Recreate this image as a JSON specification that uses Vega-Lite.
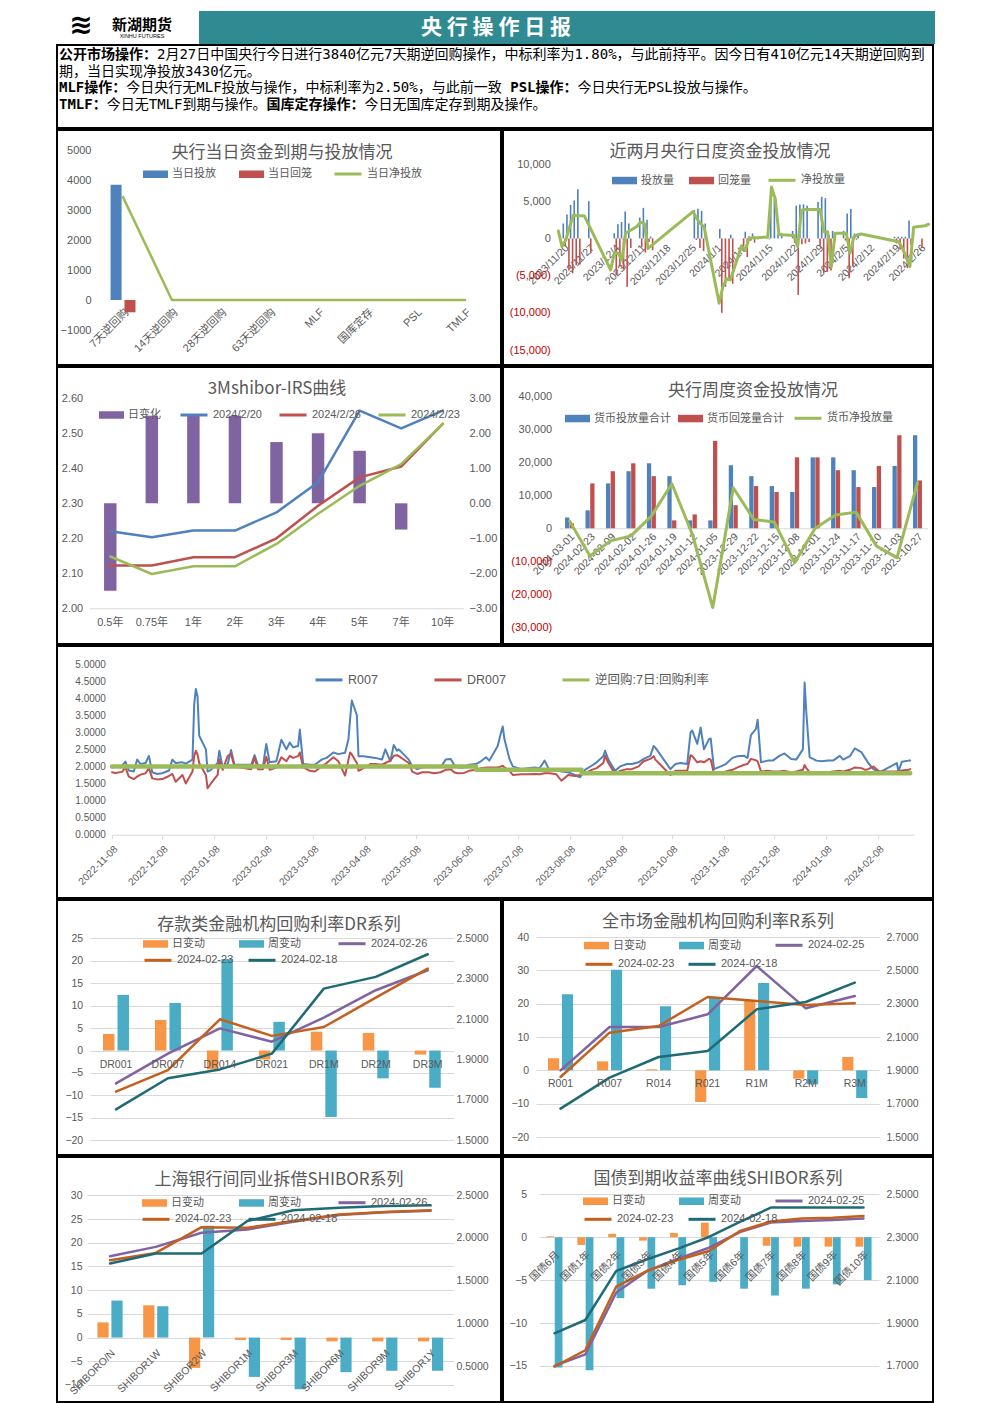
{
"$schema": "https://vega.github.io/schema/vega-lite/v6.json",
"background": "white",
"padding": {"left": 56, "top": 11, "right": 0, "bottom": 0},
"spacing": 0,
"resolve": {"scale": {"fill": "independent", "stroke": "independent", "xOffset": "independent"}, "legend": {"fill": "independent", "stroke": "independent"}},
"config": {
  "font": "Liberation Sans, Noto Sans CJK SC",
  "view": {"stroke": null},
  "axis": {"labelColor": "#595959", "labelFont": "Liberation Sans, Noto Sans CJK SC", "labelFontSize": 10.5, "ticks": false, "tickSize": 0, "domain": false, "grid": false, "labelOverlap": false, "labelFlush": false},
  "legend": {"labelColor": "#595959", "labelFont": "Liberation Sans, Noto Sans CJK SC", "labelFontSize": 11, "padding": 0, "orient": "none", "direction": "horizontal", "labelOffset": 4, "titlePadding": 0},
  "title": {"font": "Noto Sans CJK SC", "fontSize": 17, "fontWeight": "normal", "color": "#595959", "anchor": "middle", "frame": "group"},
  "line": {"strokeJoin": "round", "strokeCap": "round"},
  "concat": {"spacing": 0}
},
"datasets": {
  "p1bar": [{"c":"7天逆回购","s":"当日投放","v":3840},{"c":"7天逆回购","s":"当日回笼","v":-410}],
  "p1line": [{"c":"7天逆回购","v":3430},{"c":"14天逆回购","v":0},{"c":"28天逆回购","v":0},{"c":"63天逆回购","v":0},{"c":"MLF","v":0},{"c":"国库定存","v":0},{"c":"PSL","v":0},{"c":"TMLF","v":0}],
  "p2": [
    {"d":"2023/11/20","inj":2000,"mat":-1000,"net":1000},{"d":"2023/11/21","inj":3200,"mat":-4300,"net":-1100},{"d":"2023/11/22","inj":4500,"mat":-4700,"net":-200},{"d":"2023/11/23","inj":5100,"mat":-3600,"net":1500},{"d":"2023/11/24","inj":6600,"mat":-3500,"net":3100},{"d":"2023/11/27","inj":5000,"mat":-2000,"net":3000},
    {"d":"2023/12/04","inj":700,"mat":-4950,"net":-4250},{"d":"2023/12/05","inj":1900,"mat":-3800,"net":-1900},{"d":"2023/12/06","inj":2200,"mat":-4200,"net":-2000},{"d":"2023/12/07","inj":3600,"mat":-6500,"net":-2900},{"d":"2023/12/08","inj":2000,"mat":-1300,"net":700},
    {"d":"2023/12/11","inj":2800,"mat":-1200,"net":1600},{"d":"2023/12/12","inj":4100,"mat":-1900,"net":2200},{"d":"2023/12/13","inj":2500,"mat":-500,"net":2000},{"d":"2023/12/14","inj":250,"mat":-1600,"net":-1350},
    {"d":"2023/12/26","inj":3800,"mat":-200,"net":3600},{"d":"2023/12/27","inj":4000,"mat":-1300,"net":2700},{"d":"2023/12/28","inj":3700,"mat":-1700,"net":2000},{"d":"2023/12/29","inj":2000,"mat":-500,"net":1500},
    {"d":"2024/01/02","inj":1300,"mat":-10000,"net":-8700},{"d":"2024/01/03","inj":0,"mat":-6500,"net":-6500},{"d":"2024/01/04","inj":0,"mat":-5400,"net":-5400},{"d":"2024/01/05","inj":500,"mat":-6100,"net":-5600},
    {"d":"2024/01/08","inj":0,"mat":-1000,"net":-1000},{"d":"2024/01/09","inj":900,"mat":-2500,"net":-1600},{"d":"2024/01/10","inj":300,"mat":-300,"net":0},{"d":"2024/01/11","inj":670,"mat":-570,"net":100},{"d":"2024/01/12","inj":200,"mat":-100,"net":100},
    {"d":"2024/01/15","inj":300,"mat":-100,"net":200},{"d":"2024/01/16","inj":6900,"mat":0,"net":6900},{"d":"2024/01/17","inj":5300,"mat":0,"net":5300},{"d":"2024/01/18","inj":550,"mat":0,"net":550},{"d":"2024/01/19","inj":500,"mat":0,"net":500},
    {"d":"2024/01/22","inj":1000,"mat":-600,"net":400},{"d":"2024/01/23","inj":4400,"mat":-7600,"net":-1100},{"d":"2024/01/24","inj":4570,"mat":-770,"net":3800},{"d":"2024/01/25","inj":4570,"mat":-670,"net":3900},{"d":"2024/01/26","inj":4400,"mat":-500,"net":3900},
    {"d":"2024/01/29","inj":4900,"mat":-1000,"net":3900},{"d":"2024/01/30","inj":5600,"mat":-4700,"net":900},{"d":"2024/01/31","inj":5400,"mat":-4500,"net":900},{"d":"2024/02/01","inj":500,"mat":-4300,"net":-3800},{"d":"2024/02/02","inj":1000,"mat":-300,"net":700},
    {"d":"2024/02/05","inj":1000,"mat":-300,"net":700},{"d":"2024/02/06","inj":3360,"mat":-5360,"net":-2000},{"d":"2024/02/07","inj":3950,"mat":-3750,"net":200},{"d":"2024/02/08","inj":670,"mat":-170,"net":500},{"d":"2024/02/09","inj":600,"mat":0,"net":600},
    {"d":"2024/02/19","inj":224,"mat":-670,"net":-450},{"d":"2024/02/20","inj":224,"mat":-1500,"net":-1300},{"d":"2024/02/21","inj":224,"mat":-2700,"net":-2500},{"d":"2024/02/22","inj":224,"mat":-4000,"net":-3800},{"d":"2024/02/23","inj":2400,"mat":-900,"net":1500},
    {"d":"2024/02/26","inj":0,"mat":-1300,"net":1700},{"d":"2024/02/27","inj":0,"mat":0,"net":1900}
  ],
  "irsbar": [{"c":"0.5年","v":-2.5},{"c":"0.75年","v":2.5},{"c":"1年","v":2.5},{"c":"2年","v":2.5},{"c":"3年","v":1.75},{"c":"4年","v":2.0},{"c":"5年","v":1.5},{"c":"7年","v":-0.75},{"c":"10年","v":0}],
  "irsline": [
    {"c":"0.5年","s":"2024/2/20","v":2.220},{"c":"0.75年","s":"2024/2/20","v":2.203},{"c":"1年","s":"2024/2/20","v":2.222},{"c":"2年","s":"2024/2/20","v":2.222},{"c":"3年","s":"2024/2/20","v":2.274},{"c":"4年","s":"2024/2/20","v":2.360},{"c":"5年","s":"2024/2/20","v":2.565},{"c":"7年","s":"2024/2/20","v":2.514},{"c":"10年","s":"2024/2/20","v":2.565},
    {"c":"0.5年","s":"2024/2/26","v":2.122},{"c":"0.75年","s":"2024/2/26","v":2.122},{"c":"1年","s":"2024/2/26","v":2.146},{"c":"2年","s":"2024/2/26","v":2.146},{"c":"3年","s":"2024/2/26","v":2.200},{"c":"4年","s":"2024/2/26","v":2.293},{"c":"5年","s":"2024/2/26","v":2.374},{"c":"7年","s":"2024/2/26","v":2.405},{"c":"10年","s":"2024/2/26","v":2.527},
    {"c":"0.5年","s":"2024/2/23","v":2.148},{"c":"0.75年","s":"2024/2/23","v":2.098},{"c":"1年","s":"2024/2/23","v":2.120},{"c":"2年","s":"2024/2/23","v":2.120},{"c":"3年","s":"2024/2/23","v":2.184},{"c":"4年","s":"2024/2/23","v":2.270},{"c":"5年","s":"2024/2/23","v":2.350},{"c":"7年","s":"2024/2/23","v":2.412},{"c":"10年","s":"2024/2/23","v":2.527}
  ],
  "wkbar": [
    {"w":"2024-03-01","s":"货币投放量合计","v":3300},{"w":"2024-03-01","s":"货币回笼量合计","v":1500},
    {"w":"2024-02-23","s":"货币投放量合计","v":5450},{"w":"2024-02-23","s":"货币回笼量合计","v":13600},
    {"w":"2024-02-09","s":"货币投放量合计","v":13600},{"w":"2024-02-09","s":"货币回笼量合计","v":17300},
    {"w":"2024-02-02","s":"货币投放量合计","v":17300},{"w":"2024-02-02","s":"货币回笼量合计","v":19700},
    {"w":"2024-01-26","s":"货币投放量合计","v":19700},{"w":"2024-01-26","s":"货币回笼量合计","v":15800},
    {"w":"2024-01-19","s":"货币投放量合计","v":15800},{"w":"2024-01-19","s":"货币回笼量合计","v":2400},
    {"w":"2024-01-12","s":"货币投放量合计","v":2400},{"w":"2024-01-12","s":"货币回笼量合计","v":4200},
    {"w":"2024-01-05","s":"货币投放量合计","v":2400},{"w":"2024-01-05","s":"货币回笼量合计","v":26500},
    {"w":"2023-12-29","s":"货币投放量合计","v":19100},{"w":"2023-12-29","s":"货币回笼量合计","v":7000},
    {"w":"2023-12-22","s":"货币投放量合计","v":15800},{"w":"2023-12-22","s":"货币回笼量合计","v":12800},
    {"w":"2023-12-15","s":"货币投放量合计","v":12800},{"w":"2023-12-15","s":"货币回笼量合计","v":11000},
    {"w":"2023-12-08","s":"货币投放量合计","v":11000},{"w":"2023-12-08","s":"货币回笼量合计","v":21500},
    {"w":"2023-12-01","s":"货币投放量合计","v":21500},{"w":"2023-12-01","s":"货币回笼量合计","v":21500},
    {"w":"2023-11-24","s":"货币投放量合计","v":21500},{"w":"2023-11-24","s":"货币回笼量合计","v":17600},
    {"w":"2023-11-17","s":"货币投放量合计","v":17600},{"w":"2023-11-17","s":"货币回笼量合计","v":12500},
    {"w":"2023-11-10","s":"货币投放量合计","v":12500},{"w":"2023-11-10","s":"货币回笼量合计","v":18900},
    {"w":"2023-11-03","s":"货币投放量合计","v":18900},{"w":"2023-11-03","s":"货币回笼量合计","v":28200},
    {"w":"2023-10-27","s":"货币投放量合计","v":28200},{"w":"2023-10-27","s":"货币回笼量合计","v":14500}
  ],
  "wkline": [
    {"w":"2024-03-01","v":2200},{"w":"2024-02-23","v":-8400},{"w":"2024-02-09","v":-3800},{"w":"2024-02-02","v":-2300},{"w":"2024-01-26","v":3700},{"w":"2024-01-19","v":13500},{"w":"2024-01-12","v":-1800},{"w":"2024-01-05","v":-24000},{"w":"2023-12-29","v":12300},
    {"w":"2023-12-22","v":2700},{"w":"2023-12-15","v":1900},{"w":"2023-12-08","v":-10400},{"w":"2023-12-01","v":0},{"w":"2023-11-24","v":4000},{"w":"2023-11-17","v":4900},{"w":"2023-11-10","v":-5400},{"w":"2023-11-03","v":-8900},{"w":"2023-10-27","v":13800}
  ],
  "repo": [
    {"d":"2022/11/08","r":1.97,"dr":1.83},{"d":"2022/11/10","r":2.00,"dr":1.81},{"d":"2022/11/14","r":2.02,"dr":1.84},{"d":"2022/11/16","r":2.14,"dr":1.97},{"d":"2022/11/18","r":1.88,"dr":1.70},{"d":"2022/11/21","r":1.85,"dr":1.63},{"d":"2022/11/23","r":2.20,"dr":1.70},{"d":"2022/11/25","r":2.07,"dr":1.76},{"d":"2022/11/28","r":2.10,"dr":1.80},{"d":"2022/11/30","r":2.31,"dr":1.95},
    {"d":"2022/12/02","r":1.83,"dr":1.65},{"d":"2022/12/05","r":1.78,"dr":1.62},{"d":"2022/12/08","r":1.80,"dr":1.63},{"d":"2022/12/12","r":1.88,"dr":1.72},{"d":"2022/12/14","r":2.20,"dr":1.78},{"d":"2022/12/16","r":2.10,"dr":1.55},{"d":"2022/12/20","r":2.12,"dr":1.75},{"d":"2022/12/22","r":2.08,"dr":1.50},{"d":"2022/12/26","r":2.20,"dr":1.85},{"d":"2022/12/27","r":3.80,"dr":2.30},{"d":"2022/12/28","r":4.27,"dr":2.46},{"d":"2022/12/29","r":4.05,"dr":2.35},{"d":"2022/12/30","r":2.90,"dr":2.10},
    {"d":"2023/01/03","r":2.50,"dr":1.75},{"d":"2023/01/04","r":1.85,"dr":1.36},{"d":"2023/01/06","r":1.90,"dr":1.50},{"d":"2023/01/10","r":2.10,"dr":1.75},{"d":"2023/01/11","r":2.46,"dr":2.20},{"d":"2023/01/13","r":1.97,"dr":1.90},{"d":"2023/01/16","r":2.07,"dr":2.31},{"d":"2023/01/18","r":2.48,"dr":2.36},{"d":"2023/01/20","r":2.05,"dr":2.00},{"d":"2023/01/30","r":2.05,"dr":1.92},
    {"d":"2023/02/01","r":2.33,"dr":2.27},{"d":"2023/02/03","r":2.04,"dr":1.92},{"d":"2023/02/06","r":2.00,"dr":1.92},{"d":"2023/02/08","r":2.66,"dr":2.28},{"d":"2023/02/10","r":2.12,"dr":1.90},{"d":"2023/02/14","r":2.15,"dr":1.97},{"d":"2023/02/17","r":2.78,"dr":2.27},{"d":"2023/02/20","r":2.50,"dr":2.15},{"d":"2023/02/22","r":2.70,"dr":2.31},{"d":"2023/02/24","r":2.56,"dr":2.25},{"d":"2023/02/27","r":2.60,"dr":2.30},{"d":"2023/02/28","r":3.08,"dr":2.41},
    {"d":"2023/03/02","r":2.07,"dr":1.97},{"d":"2023/03/06","r":2.05,"dr":1.87},{"d":"2023/03/09","r":2.05,"dr":1.85},{"d":"2023/03/13","r":2.20,"dr":2.00},{"d":"2023/03/16","r":2.25,"dr":2.10},{"d":"2023/03/20","r":2.41,"dr":2.27},{"d":"2023/03/23","r":2.36,"dr":2.15},{"d":"2023/03/27","r":2.40,"dr":1.73},{"d":"2023/03/29","r":2.80,"dr":2.20},{"d":"2023/03/30","r":3.40,"dr":2.41},{"d":"2023/03/31","r":3.93,"dr":2.35},
    {"d":"2023/04/03","r":3.50,"dr":2.10},{"d":"2023/04/04","r":2.30,"dr":1.87},{"d":"2023/04/07","r":2.30,"dr":1.95},{"d":"2023/04/11","r":2.27,"dr":2.07},{"d":"2023/04/14","r":2.25,"dr":2.07},{"d":"2023/04/18","r":2.20,"dr":2.05},{"d":"2023/04/20","r":2.50,"dr":2.10},{"d":"2023/04/23","r":2.15,"dr":2.17},{"d":"2023/04/25","r":2.63,"dr":2.31},{"d":"2023/04/27","r":2.46,"dr":2.33},{"d":"2023/04/28","r":2.50,"dr":2.30},
    {"d":"2023/05/04","r":2.20,"dr":2.10},{"d":"2023/05/06","r":2.00,"dr":1.85},{"d":"2023/05/09","r":1.92,"dr":1.78},{"d":"2023/05/12","r":1.97,"dr":1.83},{"d":"2023/05/16","r":2.00,"dr":1.83},{"d":"2023/05/19","r":2.02,"dr":1.80},{"d":"2023/05/23","r":1.98,"dr":1.83},{"d":"2023/05/26","r":2.20,"dr":1.90},{"d":"2023/05/29","r":2.22,"dr":1.92},{"d":"2023/05/31","r":2.05,"dr":1.83},
    {"d":"2023/06/02","r":1.97,"dr":1.80},{"d":"2023/06/06","r":1.97,"dr":1.81},{"d":"2023/06/09","r":2.05,"dr":1.87},{"d":"2023/06/13","r":2.07,"dr":1.90},{"d":"2023/06/16","r":2.15,"dr":1.95},{"d":"2023/06/19","r":2.27,"dr":1.97},{"d":"2023/06/21","r":2.17,"dr":1.97},{"d":"2023/06/26","r":2.60,"dr":1.97},{"d":"2023/06/28","r":3.00,"dr":2.00},{"d":"2023/06/29","r":3.17,"dr":2.02},{"d":"2023/06/30","r":2.80,"dr":1.97},
    {"d":"2023/07/03","r":2.22,"dr":1.87},{"d":"2023/07/05","r":2.00,"dr":1.75},{"d":"2023/07/10","r":1.92,"dr":1.77},{"d":"2023/07/14","r":1.95,"dr":1.77},{"d":"2023/07/18","r":1.97,"dr":1.78},{"d":"2023/07/21","r":1.95,"dr":1.77},{"d":"2023/07/24","r":2.17,"dr":1.80},{"d":"2023/07/27","r":1.87,"dr":1.80},{"d":"2023/07/31","r":1.90,"dr":1.77},
    {"d":"2023/08/03","r":1.85,"dr":1.58},{"d":"2023/08/07","r":1.83,"dr":1.75},{"d":"2023/08/11","r":1.75,"dr":1.72},{"d":"2023/08/14","r":1.68,"dr":1.75},{"d":"2023/08/17","r":1.90,"dr":1.80},{"d":"2023/08/21","r":2.02,"dr":1.90},{"d":"2023/08/24","r":2.12,"dr":1.95},{"d":"2023/08/28","r":2.30,"dr":2.10},{"d":"2023/08/29","r":2.46,"dr":2.31},{"d":"2023/08/31","r":2.20,"dr":2.10},
    {"d":"2023/09/04","r":1.87,"dr":1.78},{"d":"2023/09/07","r":2.00,"dr":1.87},{"d":"2023/09/11","r":2.07,"dr":1.92},{"d":"2023/09/14","r":2.07,"dr":1.92},{"d":"2023/09/18","r":2.12,"dr":2.00},{"d":"2023/09/21","r":2.22,"dr":2.15},{"d":"2023/09/25","r":2.31,"dr":2.22},{"d":"2023/09/27","r":2.60,"dr":2.30},{"d":"2023/09/28","r":2.55,"dr":2.20},
    {"d":"2023/10/07","r":1.92,"dr":1.75},{"d":"2023/10/10","r":2.07,"dr":1.87},{"d":"2023/10/13","r":2.10,"dr":1.87},{"d":"2023/10/17","r":2.07,"dr":1.87},{"d":"2023/10/19","r":3.00,"dr":2.33},{"d":"2023/10/20","r":3.05,"dr":2.30},{"d":"2023/10/23","r":2.66,"dr":2.12},{"d":"2023/10/25","r":3.14,"dr":2.15},{"d":"2023/10/27","r":2.50,"dr":2.12},{"d":"2023/10/30","r":2.80,"dr":2.22},{"d":"2023/10/31","r":2.82,"dr":2.20},
    {"d":"2023/11/02","r":1.92,"dr":1.78},{"d":"2023/11/06","r":2.00,"dr":1.80},{"d":"2023/11/09","r":2.07,"dr":1.85},{"d":"2023/11/13","r":2.25,"dr":1.90},{"d":"2023/11/16","r":2.30,"dr":1.97},{"d":"2023/11/20","r":2.31,"dr":2.05},{"d":"2023/11/22","r":2.25,"dr":2.07},{"d":"2023/11/24","r":2.92,"dr":2.22},{"d":"2023/11/27","r":3.10,"dr":2.18},{"d":"2023/11/28","r":3.37,"dr":2.15},{"d":"2023/11/30","r":2.12,"dr":1.85},
    {"d":"2023/12/04","r":2.17,"dr":1.87},{"d":"2023/12/07","r":2.17,"dr":1.85},{"d":"2023/12/11","r":2.31,"dr":1.85},{"d":"2023/12/14","r":2.38,"dr":1.87},{"d":"2023/12/18","r":2.22,"dr":1.83},{"d":"2023/12/21","r":2.20,"dr":1.85},{"d":"2023/12/25","r":2.50,"dr":1.90},{"d":"2023/12/26","r":4.46,"dr":2.04},{"d":"2023/12/27","r":3.60,"dr":1.95},{"d":"2023/12/29","r":2.27,"dr":1.83},
    {"d":"2024/01/02","r":2.17,"dr":1.80},{"d":"2024/01/05","r":2.15,"dr":1.80},{"d":"2024/01/09","r":2.17,"dr":1.83},{"d":"2024/01/12","r":2.17,"dr":1.85},{"d":"2024/01/16","r":2.31,"dr":1.87},{"d":"2024/01/18","r":2.20,"dr":1.85},{"d":"2024/01/22","r":2.30,"dr":1.90},{"d":"2024/01/25","r":2.53,"dr":1.97},{"d":"2024/01/29","r":2.41,"dr":1.95},{"d":"2024/01/31","r":2.25,"dr":1.90},
    {"d":"2024/02/02","r":2.10,"dr":1.92},{"d":"2024/02/05","r":1.92,"dr":2.00},{"d":"2024/02/08","r":1.85,"dr":1.87},{"d":"2024/02/09","r":1.83,"dr":1.85},{"d":"2024/02/19","r":2.10,"dr":1.85},{"d":"2024/02/20","r":1.85,"dr":1.85},{"d":"2024/02/22","r":2.14,"dr":1.88},{"d":"2024/02/26","r":2.17,"dr":1.90},{"d":"2024/02/27","r":2.17,"dr":1.92}
  ],
  "omo": [{"d":"2022/11/08","v":2.0},{"d":"2023/06/12","v":2.0},{"d":"2023/06/13","v":1.9},{"d":"2023/08/14","v":1.9},{"d":"2023/08/15","v":1.8},{"d":"2024/02/27","v":1.8}],
  "drbar": [
    {"c":"DR001","s":"日变动","v":3.7},{"c":"DR001","s":"周变动","v":12.4},{"c":"DR007","s":"日变动","v":6.8},{"c":"DR007","s":"周变动","v":10.6},{"c":"DR014","s":"日变动","v":-4.2},{"c":"DR014","s":"周变动","v":20.4},{"c":"DR021","s":"日变动","v":-2.0},{"c":"DR021","s":"周变动","v":6.4},
    {"c":"DR1M","s":"日变动","v":4.2},{"c":"DR1M","s":"周变动","v":-14.8},{"c":"DR2M","s":"日变动","v":3.9},{"c":"DR2M","s":"周变动","v":-6.2},{"c":"DR3M","s":"日变动","v":-0.9},{"c":"DR3M","s":"周变动","v":-8.3}
  ],
  "drline": [
    {"c":"DR001","s":"2024-02-26","v":1.782},{"c":"DR007","s":"2024-02-26","v":1.929},{"c":"DR014","s":"2024-02-26","v":2.054},{"c":"DR021","s":"2024-02-26","v":1.988},{"c":"DR1M","s":"2024-02-26","v":2.107},{"c":"DR2M","s":"2024-02-26","v":2.243},{"c":"DR3M","s":"2024-02-26","v":2.342},
    {"c":"DR001","s":"2024-02-23","v":1.741},{"c":"DR007","s":"2024-02-23","v":1.847},{"c":"DR014","s":"2024-02-23","v":2.099},{"c":"DR021","s":"2024-02-23","v":2.017},{"c":"DR1M","s":"2024-02-23","v":2.061},{"c":"DR2M","s":"2024-02-23","v":2.206},{"c":"DR3M","s":"2024-02-23","v":2.350},
    {"c":"DR001","s":"2024-02-18","v":1.653},{"c":"DR007","s":"2024-02-18","v":1.807},{"c":"DR014","s":"2024-02-18","v":1.851},{"c":"DR021","s":"2024-02-18","v":1.929},{"c":"DR1M","s":"2024-02-18","v":2.251},{"c":"DR2M","s":"2024-02-18","v":2.309},{"c":"DR3M","s":"2024-02-18","v":2.421}
  ],
  "rbar": [
    {"c":"R001","s":"日变动","v":3.6},{"c":"R001","s":"周变动","v":22.8},{"c":"R007","s":"日变动","v":2.7},{"c":"R007","s":"周变动","v":30.2},{"c":"R014","s":"日变动","v":0.3},{"c":"R014","s":"周变动","v":19.2},{"c":"R021","s":"日变动","v":-9.5},{"c":"R021","s":"周变动","v":22.0},
    {"c":"R1M","s":"日变动","v":20.8},{"c":"R1M","s":"周变动","v":26.2},{"c":"R2M","s":"日变动","v":-2.5},{"c":"R2M","s":"周变动","v":-4.2},{"c":"R3M","s":"日变动","v":4.0},{"c":"R3M","s":"周变动","v":-8.3}
  ],
  "rline": [
    {"c":"R001","s":"2024-02-25","v":1.900},{"c":"R007","s":"2024-02-25","v":2.160},{"c":"R014","s":"2024-02-25","v":2.160},{"c":"R021","s":"2024-02-25","v":2.236},{"c":"R1M","s":"2024-02-25","v":2.526},{"c":"R2M","s":"2024-02-25","v":2.272},{"c":"R3M","s":"2024-02-25","v":2.346},
    {"c":"R001","s":"2024-02-23","v":1.860},{"c":"R007","s":"2024-02-23","v":2.126},{"c":"R014","s":"2024-02-23","v":2.166},{"c":"R021","s":"2024-02-23","v":2.340},{"c":"R1M","s":"2024-02-23","v":2.316},{"c":"R2M","s":"2024-02-23","v":2.292},{"c":"R3M","s":"2024-02-23","v":2.302},
    {"c":"R001","s":"2024-02-18","v":1.670},{"c":"R007","s":"2024-02-18","v":1.856},{"c":"R014","s":"2024-02-18","v":1.980},{"c":"R021","s":"2024-02-18","v":2.016},{"c":"R1M","s":"2024-02-18","v":2.266},{"c":"R2M","s":"2024-02-18","v":2.310},{"c":"R3M","s":"2024-02-18","v":2.426}
  ],
  "shbar": [
    {"c":"SHIBORO/N","s":"日变动","v":3.2},{"c":"SHIBORO/N","s":"周变动","v":7.8},{"c":"SHIBOR1W","s":"日变动","v":6.8},{"c":"SHIBOR1W","s":"周变动","v":6.6},{"c":"SHIBOR2W","s":"日变动","v":-6.4},{"c":"SHIBOR2W","s":"周变动","v":23.6},
    {"c":"SHIBOR1M","s":"日变动","v":-0.5},{"c":"SHIBOR1M","s":"周变动","v":-8.3},{"c":"SHIBOR3M","s":"日变动","v":-0.5},{"c":"SHIBOR3M","s":"周变动","v":-10.9},{"c":"SHIBOR6M","s":"日变动","v":-0.8},{"c":"SHIBOR6M","s":"周变动","v":-7.3},
    {"c":"SHIBOR9M","s":"日变动","v":-0.8},{"c":"SHIBOR9M","s":"周变动","v":-7.0},{"c":"SHIBOR1Y","s":"日变动","v":-0.8},{"c":"SHIBOR1Y","s":"周变动","v":-7.0}
  ],
  "shline": [
    {"c":"SHIBORO/N","s":"2024-02-26","v":1.786},{"c":"SHIBOR1W","s":"2024-02-26","v":1.896},{"c":"SHIBOR2W","s":"2024-02-26","v":2.061},{"c":"SHIBOR1M","s":"2024-02-26","v":2.100},{"c":"SHIBOR3M","s":"2024-02-26","v":2.190},{"c":"SHIBOR6M","s":"2024-02-26","v":2.270},{"c":"SHIBOR9M","s":"2024-02-26","v":2.300},{"c":"SHIBOR1Y","s":"2024-02-26","v":2.320},
    {"c":"SHIBORO/N","s":"2024-02-23","v":1.739},{"c":"SHIBOR1W","s":"2024-02-23","v":1.825},{"c":"SHIBOR2W","s":"2024-02-23","v":2.127},{"c":"SHIBOR1M","s":"2024-02-23","v":2.120},{"c":"SHIBOR3M","s":"2024-02-23","v":2.198},{"c":"SHIBOR6M","s":"2024-02-23","v":2.276},{"c":"SHIBOR9M","s":"2024-02-23","v":2.304},{"c":"SHIBOR1Y","s":"2024-02-23","v":2.324},
    {"c":"SHIBORO/N","s":"2024-02-18","v":1.700},{"c":"SHIBOR1W","s":"2024-02-18","v":1.818},{"c":"SHIBOR2W","s":"2024-02-18","v":1.818},{"c":"SHIBOR1M","s":"2024-02-18","v":2.198},{"c":"SHIBOR3M","s":"2024-02-18","v":2.324},{"c":"SHIBOR6M","s":"2024-02-18","v":2.355},{"c":"SHIBOR9M","s":"2024-02-18","v":2.375},{"c":"SHIBOR1Y","s":"2024-02-18","v":2.382}
  ],
  "gzbar": [
    {"c":"国债6月","s":"日变动","v":0.1},{"c":"国债6月","s":"周变动","v":-15.2},{"c":"国债1年","s":"日变动","v":-0.9},{"c":"国债1年","s":"周变动","v":-15.5},{"c":"国债2年","s":"日变动","v":0.4},{"c":"国债2年","s":"周变动","v":-7.1},
    {"c":"国债3年","s":"日变动","v":-0.4},{"c":"国债3年","s":"周变动","v":-6.0},{"c":"国债4年","s":"日变动","v":0.5},{"c":"国债4年","s":"周变动","v":-5.6},{"c":"国债5年","s":"日变动","v":1.7},{"c":"国债5年","s":"周变动","v":-5.2},
    {"c":"国债6年","s":"日变动","v":0.0},{"c":"国债6年","s":"周变动","v":-6.0},{"c":"国债7年","s":"日变动","v":-1.0},{"c":"国债7年","s":"周变动","v":-6.8},{"c":"国债8年","s":"日变动","v":-1.1},{"c":"国债8年","s":"周变动","v":-6.0},
    {"c":"国债9年","s":"日变动","v":-1.1},{"c":"国债9年","s":"周变动","v":-5.5},{"c":"国债10年","s":"日变动","v":-1.1},{"c":"国债10年","s":"周变动","v":-5.0}
  ],
  "gzline": [
    {"c":"国债6月","s":"2024-02-25","v":1.700},{"c":"国债1年","s":"2024-02-25","v":1.754},{"c":"国债2年","s":"2024-02-25","v":2.042},{"c":"国债3年","s":"2024-02-25","v":2.143},{"c":"国债4年","s":"2024-02-25","v":2.200},{"c":"国债5年","s":"2024-02-25","v":2.251},{"c":"国债6年","s":"2024-02-25","v":2.324},{"c":"国债7年","s":"2024-02-25","v":2.368},{"c":"国债8年","s":"2024-02-25","v":2.376},{"c":"国债9年","s":"2024-02-25","v":2.380},{"c":"国债10年","s":"2024-02-25","v":2.387},
    {"c":"国债6月","s":"2024-02-23","v":1.697},{"c":"国债1年","s":"2024-02-23","v":1.773},{"c":"国债2年","s":"2024-02-23","v":2.070},{"c":"国债3年","s":"2024-02-23","v":2.143},{"c":"国债4年","s":"2024-02-23","v":2.194},{"c":"国债5年","s":"2024-02-23","v":2.236},{"c":"国债6年","s":"2024-02-23","v":2.329},{"c":"国债7年","s":"2024-02-23","v":2.373},{"c":"国债8年","s":"2024-02-23","v":2.387},{"c":"国债9年","s":"2024-02-23","v":2.391},{"c":"国债10年","s":"2024-02-23","v":2.399},
    {"c":"国债6月","s":"2024-02-18","v":1.852},{"c":"国债1年","s":"2024-02-18","v":1.914},{"c":"国债2年","s":"2024-02-18","v":2.143},{"c":"国债3年","s":"2024-02-18","v":2.197},{"c":"国债4年","s":"2024-02-18","v":2.247},{"c":"国债5年","s":"2024-02-18","v":2.301},{"c":"国债6年","s":"2024-02-18","v":2.371},{"c":"国债7年","s":"2024-02-18","v":2.438},{"c":"国债8年","s":"2024-02-18","v":2.438},{"c":"国债9年","s":"2024-02-18","v":2.438},{"c":"国债10年","s":"2024-02-18","v":2.438}
  ]
},
"vconcat": [
  {"hconcat": [
    {"width": 44, "height": 33, "view": {"fill": "white", "stroke": null},
     "title": {"text": "≋", "font": "DejaVu Sans", "fontSize": 28, "fontWeight": "bold", "color": "black", "offset": -29, "dx": 2},
     "data": {"values": [{"t": ""}]}, "mark": {"type": "text"}, "encoding": {"text": {"field": "t"}}},
    {"width": 98, "height": 33, "view": {"fill": "white", "stroke": null},
     "title": {"text": "新湖期货", "subtitle": "XINHU FUTURES", "font": "Noto Sans CJK SC", "fontSize": 15, "fontWeight": "bold", "color": "black", "subtitleFontSize": 5.5, "subtitleColor": "black", "subtitleFont": "Liberation Sans", "subtitlePadding": 1, "offset": -28, "dx": -8},
     "data": {"values": [{"t": ""}]}, "mark": {"type": "text"}, "encoding": {"text": {"field": "t"}}},
    {"width": 736, "height": 33, "view": {"fill": "#2F8A91", "stroke": null},
     "title": {"text": "央 行 操 作 日 报", "font": "Noto Sans CJK SC", "fontSize": 21, "fontWeight": "bold", "color": "white", "offset": -27, "dx": -71},
     "data": {"values": [{"t": ""}]}, "mark": {"type": "text"}, "encoding": {"text": {"field": "t"}}}
  ], "spacing": 0},
  {"width": 876, "height": 83, "view": {"fill": "white", "stroke": "black", "strokeWidth": 2},
   "encoding": {"x": {"value": 2}, "y": {"field": "ln", "type": "ordinal", "scale": {"type": "point", "domain": [1,2,3,4], "range": [10, 60], "padding": 0}, "axis": null}, "text": {"field": "t"}},
   "layer": [
     {"data": {"values": [{"ln": 1, "t": "公开市场操作："}, {"ln": 3, "t": "MLF操作："}, {"ln": 4, "t": "TMLF："}]}, "mark": {"type": "text", "align": "left", "baseline": "middle", "font": "DejaVu Sans Mono, Noto Sans CJK SC", "fontSize": 14, "fontWeight": "bold", "color": "black"}},
     {"data": {"values": [{"ln": 2, "t": "期，当日实现净投放3430亿元。"}]}, "mark": {"type": "text", "align": "left", "baseline": "middle", "font": "DejaVu Sans Mono, Noto Sans CJK SC", "fontSize": 14, "color": "black"}},
     {"data": {"values": [{"ln": 1, "t": "2月27日中国央行今日进行3840亿元7天期逆回购操作，中标利率为1.80%，与此前持平。因今日有410亿元14天期逆回购到"}]}, "mark": {"type": "text", "align": "left", "baseline": "middle", "font": "DejaVu Sans Mono, Noto Sans CJK SC", "fontSize": 14, "color": "black", "dx": 98}},
     {"data": {"values": [{"ln": 3, "t": "今日央行无MLF投放与操作，中标利率为2.50%，与此前一致"}]}, "mark": {"type": "text", "align": "left", "baseline": "middle", "font": "DejaVu Sans Mono, Noto Sans CJK SC", "fontSize": 14, "color": "black", "dx": 67.3}},
     {"data": {"values": [{"ln": 3, "t": "PSL操作："}]}, "mark": {"type": "text", "align": "left", "baseline": "middle", "font": "DejaVu Sans Mono, Noto Sans CJK SC", "fontSize": 14, "fontWeight": "bold", "color": "black", "dx": 451.2}},
     {"data": {"values": [{"ln": 3, "t": "今日央行无PSL投放与操作。"}]}, "mark": {"type": "text", "align": "left", "baseline": "middle", "font": "DejaVu Sans Mono, Noto Sans CJK SC", "fontSize": 14, "color": "black", "dx": 518.5}},
     {"data": {"values": [{"ln": 4, "t": "今日无TMLF到期与操作。"}]}, "mark": {"type": "text", "align": "left", "baseline": "middle", "font": "DejaVu Sans Mono, Noto Sans CJK SC", "fontSize": 14, "color": "black", "dx": 47.7}},
     {"data": {"values": [{"ln": 4, "t": "国库定存操作："}]}, "mark": {"type": "text", "align": "left", "baseline": "middle", "font": "DejaVu Sans Mono, Noto Sans CJK SC", "fontSize": 14, "fontWeight": "bold", "color": "black", "dx": 207.4}},
     {"data": {"values": [{"ln": 4, "t": "今日无国库定存到期及操作。"}]}, "mark": {"type": "text", "align": "left", "baseline": "middle", "font": "DejaVu Sans Mono, Noto Sans CJK SC", "fontSize": 14, "color": "black", "dx": 305.4}}
   ]},
  {"hconcat": [
    {"width": 444, "height": 235, "view": {"fill": "white", "stroke": "black", "strokeWidth": 2},
     "title": {"text": "央行当日资金到期与投放情况", "offset": -31.5, "dx": 3},
     "layer": [
      {"data": {"name": "p1bar"}, "mark": {"type": "bar"},
       "encoding": {
        "x": {"field": "c", "type": "nominal", "sort": ["7天逆回购","14天逆回购","28天逆回购","63天逆回购","MLF","国库定存","PSL","TMLF"], "scale": {"domain": ["7天逆回购","14天逆回购","28天逆回购","63天逆回购","MLF","国库定存","PSL","TMLF"], "range": [41.6, 432.5], "paddingInner": 0.49, "paddingOuter": 0.245},
              "axis": {"title": null, "orient": "bottom", "offset": -65, "labelAngle": -45, "labelAlign": "right", "labelBaseline": "top", "labelPadding": 6, "labelFontSize": 11, "labelOverlap": false}},
        "xOffset": {"field": "s", "type": "nominal", "sort": ["当日投放","当日回笼"], "scale": {"domain": ["当日投放","当日回笼"], "paddingInner": 0.21}},
        "y": {"field": "v", "type": "quantitative", "stack": null, "scale": {"domain": [-1000, 5000], "range": [200, 20], "nice": false},
              "axis": {"title": null, "offset": -37, "labelPadding": 3, "values": [-1000,0,1000,2000,3000,4000,5000], "format": "d", "labelFontSize": 11, "labelOverlap": false}},
        "fill": {"field": "s", "type": "nominal", "scale": {"domain": ["当日投放","当日回笼"], "range": ["#4F81BD","#C0504D"]},
                 "legend": {"title": null, "legendX": 86, "legendY": 31.5, "symbolType": "M-1,-0.3H1V0.3H-1Z", "symbolSize": 625, "symbolStrokeWidth": 0, "columnPadding": 23}}
       }},
      {"data": {"name": "p1line"}, "mark": {"type": "line", "strokeWidth": 2.5},
       "encoding": {
        "x": {"field": "c", "type": "nominal", "sort": ["7天逆回购","14天逆回购","28天逆回购","63天逆回购","MLF","国库定存","PSL","TMLF"]},
        "y": {"field": "v", "type": "quantitative", "scale": {"domain": [-1000, 5000], "range": [200, 20], "nice": false}, "axis": null},
        "stroke": {"datum": "当日净投放", "scale": {"domain": ["当日净投放"], "range": ["#9BBB59"]},
                   "legend": {"title": null, "legendX": 276, "legendY": 29, "symbolType": "stroke", "symbolSize": 729, "symbolStrokeWidth": 3}}
       }}
     ],
     "resolve": {"scale": {"y": "independent"}}},
    {"width": 430, "height": 235, "view": {"fill": "white", "stroke": "black", "strokeWidth": 2},
     "title": {"text": "近两月央行日度资金投放情况", "offset": -31.2, "dx": 2},
     "data": {"name": "p2"},
     "layer": [
      {"mark": {"type": "bar", "width": 1.6},
       "encoding": {
        "x": {"field": "d", "type": "temporal", "scale": {"domain": [{"year":2023,"month":11,"date":20},{"year":2024,"month":2,"date":27}], "range": [55.3, 425.6], "nice": false},
              "axis": {"title": null, "orient": "bottom", "offset": -126.6, "labelAngle": -45, "labelAlign": "right", "labelBaseline": "top", "labelPadding": 4, "labelFontSize": 10.5, "format": "%Y/%-m/%-d", "labelOverlap": false,
                       "values": [{"year":2023,"month":11,"date":20},{"year":2023,"month":11,"date":27},{"year":2023,"month":12,"date":4},{"year":2023,"month":12,"date":11},{"year":2023,"month":12,"date":18},{"year":2023,"month":12,"date":25},{"year":2024,"month":1,"date":1},{"year":2024,"month":1,"date":8},{"year":2024,"month":1,"date":15},{"year":2024,"month":1,"date":22},{"year":2024,"month":1,"date":29},{"year":2024,"month":2,"date":5},{"year":2024,"month":2,"date":12},{"year":2024,"month":2,"date":19},{"year":2024,"month":2,"date":26}]}},
        "y": {"field": "inj", "type": "quantitative", "scale": {"domain": [-15000, 10000], "range": [220, 34], "nice": false},
              "axis": {"title": null, "offset": -50.3, "labelPadding": 3, "values": [-15000,-10000,-5000,0,5000,10000], "labelFontSize": 11, "labelOverlap": false,
                       "labelExpr": "datum.value < 0 ? '(' + format(-datum.value, ',') + ')' : format(datum.value, ',')",
                       "labelColor": {"condition": {"test": "datum.value < 0", "value": "#C00000"}, "value": "#595959"}}},
        "fill": {"datum": "投放量", "scale": {"domain": ["投放量","回笼量"], "range": ["#4F81BD","#C0504D"]},
                 "legend": {"title": null, "legendX": 109, "legendY": 37.8, "symbolType": "M-1,-0.3H1V0.3H-1Z", "symbolSize": 625, "symbolStrokeWidth": 0, "columnPadding": 15}}
       }},
      {"mark": {"type": "bar", "width": 1.6, "xOffset": 2},
       "encoding": {
        "x": {"field": "d", "type": "temporal", "scale": {"domain": [{"year":2023,"month":11,"date":20},{"year":2024,"month":2,"date":27}], "range": [55.3, 425.6], "nice": false}, "axis": null},
        "y": {"field": "mat", "type": "quantitative", "scale": {"domain": [-15000, 10000], "range": [220, 34], "nice": false}, "axis": null},
        "fill": {"datum": "回笼量"}
       }},
      {"mark": {"type": "line", "strokeWidth": 3},
       "encoding": {
        "x": {"field": "d", "type": "temporal", "scale": {"domain": [{"year":2023,"month":11,"date":20},{"year":2024,"month":2,"date":27}], "range": [55.3, 425.6], "nice": false}, "axis": null},
        "y": {"field": "net", "type": "quantitative", "scale": {"domain": [-15000, 10000], "range": [220, 34], "nice": false}, "axis": null},
        "stroke": {"datum": "净投放量", "scale": {"domain": ["净投放量"], "range": ["#9BBB59"]},
                   "legend": {"title": null, "legendX": 264, "legendY": 35.3, "symbolType": "stroke", "symbolSize": 729, "symbolStrokeWidth": 3}}
       }}
     ],
     "resolve": {"scale": {"x": "independent", "y": "independent"}}}
  ], "spacing": 0, "resolve": {"scale": {"fill": "independent", "stroke": "independent", "xOffset": "independent"}, "legend": {"fill": "independent", "stroke": "independent"}}},
  {"hconcat": [
    {"width": 444, "height": 277, "view": {"fill": "white", "stroke": "black", "strokeWidth": 2},
     "title": {"text": "3Mshibor-IRS曲线", "offset": -31.2, "dx": -2},
     "layer": [
      {"data": {"name": "irsbar"}, "mark": {"type": "bar"},
       "encoding": {
        "x": {"field": "c", "type": "nominal", "sort": ["0.5年","0.75年","1年","2年","3年","4年","5年","7年","10年"], "scale": {"domain": ["0.5年","0.75年","1年","2年","3年","4年","5年","7年","10年"], "range": [32.5, 406.5], "paddingInner": 0.7, "paddingOuter": 0.35},
              "axis": {"title": null, "orient": "bottom", "offset": -35.7, "labelAngle": 0, "labelPadding": 8, "labelFontSize": 11, "domain": true, "domainColor": "#d9d9d9"}},
        "y": {"field": "v", "type": "quantitative", "scale": {"domain": [-3, 3], "range": [241.3, 31.3], "nice": false},
              "axis": {"title": null, "orient": "right", "offset": -35, "labelPadding": 3, "values": [-3,-2,-1,0,1,2,3], "format": ".2f", "labelFontSize": 11, "labelOverlap": false}},
        "fill": {"datum": "日变化", "scale": {"domain": ["日变化"], "range": ["#8064A2"]},
                 "legend": {"title": null, "legendX": 42, "legendY": 35.5, "symbolType": "M-1,-0.3H1V0.3H-1Z", "symbolSize": 625, "symbolStrokeWidth": 0}}
       }},
      {"data": {"name": "irsline"}, "mark": {"type": "line", "strokeWidth": 2.5},
       "encoding": {
        "x": {"field": "c", "type": "nominal", "sort": ["0.5年","0.75年","1年","2年","3年","4年","5年","7年","10年"]},
        "y": {"field": "v", "type": "quantitative", "scale": {"domain": [2.0, 2.6], "range": [241.3, 31.3], "nice": false},
              "axis": {"title": null, "orient": "left", "offset": -28.7, "labelPadding": 3, "values": [2.0,2.1,2.2,2.3,2.4,2.5,2.6], "format": ".2f", "labelFontSize": 11, "labelOverlap": false}},
        "stroke": {"field": "s", "type": "nominal", "scale": {"domain": ["2024/2/20","2024/2/26","2024/2/23"], "range": ["#4F81BD","#C0504D","#9BBB59"]},
                   "legend": {"title": null, "legendX": 122, "legendY": 33, "symbolType": "stroke", "symbolSize": 729, "symbolStrokeWidth": 3, "columnPadding": 16}}
       }}
     ],
     "resolve": {"scale": {"y": "independent"}}},
    {"width": 430, "height": 277, "view": {"fill": "white", "stroke": "black", "strokeWidth": 2},
     "title": {"text": "央行周度资金投放情况", "offset": -33.2, "dx": 35},
     "layer": [
      {"data": {"name": "wkbar"}, "mark": {"type": "bar"},
       "encoding": {
        "x": {"field": "w", "type": "nominal", "sort": null, "scale": {"domain": ["2024-03-01","2024-02-23","2024-02-09","2024-02-02","2024-01-26","2024-01-19","2024-01-12","2024-01-05","2023-12-29","2023-12-22","2023-12-15","2023-12-08","2023-12-01","2023-11-24","2023-11-17","2023-11-10","2023-11-03","2023-10-27"], "range": [56.3, 424.7], "paddingInner": 0.56, "paddingOuter": 0.28},
              "axis": {"title": null, "orient": "bottom", "offset": -115.7, "labelAngle": -45, "labelAlign": "right", "labelBaseline": "top", "labelPadding": 3, "labelFontSize": 10.5, "domain": true, "domainColor": "#d9d9d9", "labelOverlap": false}},
        "xOffset": {"field": "s", "type": "nominal", "sort": ["货币投放量合计","货币回笼量合计"], "scale": {"domain": ["货币投放量合计","货币回笼量合计"], "paddingInner": 0.085}},
        "y": {"field": "v", "type": "quantitative", "stack": null, "scale": {"domain": [-30000, 40000], "range": [260.3, 29.3], "nice": false},
              "axis": {"title": null, "offset": -51.7, "labelPadding": 3, "values": [-30000,-20000,-10000,0,10000,20000,30000,40000], "labelFontSize": 11, "labelOverlap": false,
                       "labelExpr": "datum.value < 0 ? '(' + format(-datum.value, ',') + ')' : format(datum.value, ',')",
                       "labelColor": {"condition": {"test": "datum.value < 0", "value": "#C00000"}, "value": "#595959"}}},
        "fill": {"field": "s", "type": "nominal", "scale": {"domain": ["货币投放量合计","货币回笼量合计"], "range": ["#4F81BD","#C0504D"]},
                 "legend": {"title": null, "legendX": 62, "legendY": 38.8, "symbolType": "M-1,-0.3H1V0.3H-1Z", "symbolSize": 625, "symbolStrokeWidth": 0, "columnPadding": 7}}
       }},
      {"data": {"name": "wkline"}, "mark": {"type": "line", "strokeWidth": 3},
       "encoding": {
        "x": {"field": "w", "type": "nominal", "sort": ["2024-03-01","2024-02-23","2024-02-09","2024-02-02","2024-01-26","2024-01-19","2024-01-12","2024-01-05","2023-12-29","2023-12-22","2023-12-15","2023-12-08","2023-12-01","2023-11-24","2023-11-17","2023-11-10","2023-11-03","2023-10-27"]},
        "y": {"field": "v", "type": "quantitative", "scale": {"domain": [-30000, 40000], "range": [260.3, 29.3], "nice": false}, "axis": null},
        "stroke": {"datum": "货币净投放量", "scale": {"domain": ["货币净投放量"], "range": ["#9BBB59"]},
                   "legend": {"title": null, "legendX": 290, "legendY": 36.3, "symbolType": "stroke", "symbolSize": 729, "symbolStrokeWidth": 3}}
       }}
     ],
     "resolve": {"scale": {"y": "independent"}}}
  ], "spacing": 0, "resolve": {"scale": {"fill": "independent", "stroke": "independent", "xOffset": "independent"}, "legend": {"fill": "independent", "stroke": "independent"}}},
  {"width": 876, "height": 252, "view": {"fill": "white", "stroke": "black", "strokeWidth": 2},
   "layer": [
    {"data": {"name": "repo"}, "mark": {"type": "line", "strokeWidth": 2},
     "encoding": {
      "x": {"field": "d", "type": "temporal", "scale": {"domain": [{"year":2022,"month":11,"date":8},{"year":2024,"month":2,"date":29}], "range": [55, 856.6], "nice": false},
            "axis": {"title": null, "orient": "bottom", "offset": -63.3, "labelAngle": -45, "labelAlign": "right", "labelBaseline": "top", "labelPadding": 5, "labelFontSize": 10, "format": "%Y-%m-%d", "domain": true, "domainColor": "#d9d9d9", "ticks": true, "tickSize": 4, "tickColor": "#d9d9d9", "labelOverlap": false,
                     "values": [{"year":2022,"month":11,"date":8},{"year":2022,"month":12,"date":8},{"year":2023,"month":1,"date":8},{"year":2023,"month":2,"date":8},{"year":2023,"month":3,"date":8},{"year":2023,"month":4,"date":8},{"year":2023,"month":5,"date":8},{"year":2023,"month":6,"date":8},{"year":2023,"month":7,"date":8},{"year":2023,"month":8,"date":8},{"year":2023,"month":9,"date":8},{"year":2023,"month":10,"date":8},{"year":2023,"month":11,"date":8},{"year":2023,"month":12,"date":8},{"year":2024,"month":1,"date":8},{"year":2024,"month":2,"date":8}]}},
      "y": {"field": "r", "type": "quantitative", "scale": {"domain": [0, 5], "range": [188.7, 18], "nice": false},
            "axis": {"title": null, "offset": -51.4, "labelPadding": 3, "values": [0,0.5,1,1.5,2,2.5,3,3.5,4,4.5,5], "format": ".4f", "labelFontSize": 10, "labelOverlap": false}},
      "stroke": {"datum": "R007", "scale": {"domain": ["R007","DR007","逆回购:7日:回购利率"], "range": ["#4F81BD","#C0504D","#9BBB59"]},
                 "legend": {"title": null, "legendX": 257, "legendY": 18.7, "symbolType": "stroke", "symbolSize": 729, "symbolStrokeWidth": 3, "columnPadding": 55, "labelFontSize": 12.5}}
     }},
    {"data": {"name": "repo"}, "mark": {"type": "line", "strokeWidth": 2},
     "encoding": {
      "x": {"field": "d", "type": "temporal"},
      "y": {"field": "dr", "type": "quantitative", "scale": {"domain": [0, 5], "range": [188.7, 18], "nice": false}, "axis": null},
      "stroke": {"datum": "DR007"}
     }},
    {"data": {"name": "omo"}, "mark": {"type": "line", "strokeWidth": 4.5, "interpolate": "step-after"},
     "encoding": {
      "x": {"field": "d", "type": "temporal"},
      "y": {"field": "v", "type": "quantitative", "scale": {"domain": [0, 5], "range": [188.7, 18], "nice": false}, "axis": null},
      "stroke": {"datum": "逆回购:7日:回购利率"}
     }}
   ],
   "resolve": {"scale": {"y": "independent"}}},
  {"hconcat": [
    {"width": 444, "height": 255, "view": {"fill": "white", "stroke": "black", "strokeWidth": 2},
     "title": {"text": "存款类金融机构回购利率DR系列", "offset": -33.5, "dx": 0},
     "layer": [
      {"data": {"name": "drbar"}, "mark": {"type": "bar"},
       "encoding": {
        "x": {"field": "c", "type": "nominal", "sort": ["DR001","DR007","DR014","DR021","DR1M","DR2M","DR3M"], "scale": {"domain": ["DR001","DR007","DR014","DR021","DR1M","DR2M","DR3M"], "range": [33, 396.7], "paddingInner": 0.5, "paddingOuter": 0.25},
              "axis": {"title": null, "orient": "bottom", "offset": -104.5, "labelAngle": 0, "labelAlign": "center", "labelBaseline": "top", "labelPadding": 9, "labelFontSize": 10.5, "zindex": 1}},
        "xOffset": {"field": "s", "type": "nominal", "sort": ["日变动","周变动"], "scale": {"domain": ["日变动","周变动"], "paddingInner": 0.21}},
        "y": {"field": "v", "type": "quantitative", "stack": null, "scale": {"domain": [-20, 25], "range": [240.3, 38.3], "nice": false},
              "axis": {"title": null, "orient": "left", "offset": -28.7, "labelPadding": 3, "values": [-20,-15,-10,-5,0,5,10,15,20,25], "labelFontSize": 10.5, "grid": true, "gridColor": "#d9d9d9", "labelOverlap": false}},
        "fill": {"field": "s", "type": "nominal", "scale": {"domain": ["日变动","周变动"], "range": ["#F79646","#4BACC6"]},
                 "legend": {"title": null, "legendX": 86, "legendY": 31.2, "symbolType": "M-1,-0.3H1V0.3H-1Z", "symbolSize": 625, "symbolStrokeWidth": 0, "columnPadding": 34}}
       }},
      {"data": {"name": "drline"}, "transform": [{"filter": "datum.s === '2024-02-26'"}], "mark": {"type": "line", "strokeWidth": 2.5},
       "encoding": {
        "x": {"field": "c", "type": "nominal", "sort": ["DR001","DR007","DR014","DR021","DR1M","DR2M","DR3M"]},
        "y": {"field": "v", "type": "quantitative", "scale": {"domain": [1.5, 2.5], "range": [240.3, 38.3], "nice": false},
              "axis": {"title": null, "orient": "right", "offset": -48, "labelPadding": 3, "values": [1.5,1.7,1.9,2.1,2.3,2.5], "format": ".4f", "labelFontSize": 10.5, "labelOverlap": false}},
        "stroke": {"field": "s", "type": "nominal", "scale": {"domain": ["2024-02-26"], "range": ["#8064A2"]},
                   "legend": {"title": null, "legendX": 280, "legendY": 28.7, "symbolType": "stroke", "symbolSize": 729, "symbolStrokeWidth": 3}}
       }},
      {"data": {"name": "drline"}, "transform": [{"filter": "datum.s !== '2024-02-26'"}], "mark": {"type": "line", "strokeWidth": 2.5},
       "encoding": {
        "x": {"field": "c", "type": "nominal", "sort": ["DR001","DR007","DR014","DR021","DR1M","DR2M","DR3M"]},
        "y": {"field": "v", "type": "quantitative", "scale": {"domain": [1.5, 2.5], "range": [240.3, 38.3], "nice": false}, "axis": null},
        "stroke": {"field": "s", "type": "nominal", "scale": {"domain": ["2024-02-23","2024-02-18"], "range": ["#C4601E","#1F6B75"]},
                   "legend": {"title": null, "legendX": 86, "legendY": 45.3, "symbolType": "stroke", "symbolSize": 729, "symbolStrokeWidth": 3, "columnPadding": 13}}
       }}
     ],
     "resolve": {"scale": {"y": "independent", "stroke": "independent"}}},
    {"width": 430, "height": 255, "view": {"fill": "white", "stroke": "black", "strokeWidth": 2},
     "title": {"text": "全市场金融机构回购利率R系列", "offset": -31.2, "dx": 0},
     "layer": [
      {"data": {"name": "rbar"}, "mark": {"type": "bar"},
       "encoding": {
        "x": {"field": "c", "type": "nominal", "sort": ["R001","R007","R014","R021","R1M","R2M","R3M"], "scale": {"domain": ["R001","R007","R014","R021","R1M","R2M","R3M"], "range": [33, 376.3], "paddingInner": 0.49, "paddingOuter": 0.245},
              "axis": {"title": null, "orient": "bottom", "offset": -84.7, "labelAngle": 0, "labelAlign": "center", "labelBaseline": "top", "labelPadding": 8.5, "labelFontSize": 10.5, "zindex": 1}},
        "xOffset": {"field": "s", "type": "nominal", "sort": ["日变动","周变动"], "scale": {"domain": ["日变动","周变动"], "paddingInner": 0.2}},
        "y": {"field": "v", "type": "quantitative", "stack": null, "scale": {"domain": [-20, 40], "range": [237, 37], "nice": false},
              "axis": {"title": null, "orient": "left", "offset": -28.7, "labelPadding": 3, "values": [-20,-10,0,10,20,30,40], "labelFontSize": 10.5, "grid": true, "gridColor": "#d9d9d9", "labelOverlap": false}},
        "fill": {"field": "s", "type": "nominal", "scale": {"domain": ["日变动","周变动"], "range": ["#F79646","#4BACC6"]},
                 "legend": {"title": null, "legendX": 81, "legendY": 32.8, "symbolType": "M-1,-0.3H1V0.3H-1Z", "symbolSize": 625, "symbolStrokeWidth": 0, "columnPadding": 33}}
       }},
      {"data": {"name": "rline"}, "transform": [{"filter": "datum.s === '2024-02-25'"}], "mark": {"type": "line", "strokeWidth": 2.5},
       "encoding": {
        "x": {"field": "c", "type": "nominal", "sort": ["R001","R007","R014","R021","R1M","R2M","R3M"]},
        "y": {"field": "v", "type": "quantitative", "scale": {"domain": [1.5, 2.7], "range": [237, 37], "nice": false},
              "axis": {"title": null, "orient": "right", "offset": -50, "labelPadding": 3, "values": [1.5,1.7,1.9,2.1,2.3,2.5,2.7], "format": ".4f", "labelFontSize": 10.5, "labelOverlap": false}},
        "stroke": {"field": "s", "type": "nominal", "scale": {"domain": ["2024-02-25"], "range": ["#8064A2"]},
                   "legend": {"title": null, "legendX": 271, "legendY": 30.3, "symbolType": "stroke", "symbolSize": 729, "symbolStrokeWidth": 3}}
       }},
      {"data": {"name": "rline"}, "transform": [{"filter": "datum.s !== '2024-02-25'"}], "mark": {"type": "line", "strokeWidth": 2.5},
       "encoding": {
        "x": {"field": "c", "type": "nominal", "sort": ["R001","R007","R014","R021","R1M","R2M","R3M"]},
        "y": {"field": "v", "type": "quantitative", "scale": {"domain": [1.5, 2.7], "range": [237, 37], "nice": false}, "axis": null},
        "stroke": {"field": "s", "type": "nominal", "scale": {"domain": ["2024-02-23","2024-02-18"], "range": ["#C4601E","#1F6B75"]},
                   "legend": {"title": null, "legendX": 81, "legendY": 49.3, "symbolType": "stroke", "symbolSize": 729, "symbolStrokeWidth": 3, "columnPadding": 12}}
       }}
     ],
     "resolve": {"scale": {"y": "independent", "stroke": "independent"}}}
  ], "spacing": 0, "resolve": {"scale": {"fill": "independent", "stroke": "independent", "xOffset": "independent"}, "legend": {"fill": "independent", "stroke": "independent"}}},
  {"hconcat": [
    {"width": 444, "height": 245, "view": {"fill": "white", "stroke": "black", "strokeWidth": 2},
     "title": {"text": "上海银行间同业拆借SHIBOR系列", "offset": -31.5, "dx": 0},
     "layer": [
      {"data": {"name": "shbar"}, "mark": {"type": "bar"},
       "encoding": {
        "x": {"field": "c", "type": "nominal", "sort": ["SHIBORO/N","SHIBOR1W","SHIBOR2W","SHIBOR1M","SHIBOR3M","SHIBOR6M","SHIBOR9M","SHIBOR1Y"], "scale": {"domain": ["SHIBORO/N","SHIBOR1W","SHIBOR2W","SHIBOR1M","SHIBOR3M","SHIBOR6M","SHIBOR9M","SHIBOR1Y"], "range": [30.1, 396.5], "paddingInner": 0.45, "paddingOuter": 0.225},
              "axis": {"title": null, "orient": "bottom", "offset": -64.4, "labelAngle": -45, "labelAlign": "right", "labelBaseline": "top", "labelPadding": 10, "labelFontSize": 10.5, "zindex": 1}},
        "xOffset": {"field": "s", "type": "nominal", "sort": ["日变动","周变动"], "scale": {"domain": ["日变动","周变动"], "paddingInner": 0.2}},
        "y": {"field": "v", "type": "quantitative", "stack": null, "scale": {"domain": [-15, 30], "range": [251.7, 38.3], "nice": false},
              "axis": {"title": null, "orient": "left", "offset": -28, "labelPadding": 3, "values": [-10,-5,0,5,10,15,20,25,30], "labelFontSize": 10.5, "grid": true, "gridColor": "#d9d9d9", "labelOverlap": false}},
        "fill": {"field": "s", "type": "nominal", "scale": {"domain": ["日变动","周变动"], "range": ["#F79646","#4BACC6"]},
                 "legend": {"title": null, "legendX": 85, "legendY": 33.2, "symbolType": "M-1,-0.3H1V0.3H-1Z", "symbolSize": 625, "symbolStrokeWidth": 0, "columnPadding": 35}}
       }},
      {"data": {"name": "shline"}, "transform": [{"filter": "datum.s === '2024-02-26'"}], "mark": {"type": "line", "strokeWidth": 2.5},
       "encoding": {
        "x": {"field": "c", "type": "nominal", "sort": ["SHIBORO/N","SHIBOR1W","SHIBOR2W","SHIBOR1M","SHIBOR3M","SHIBOR6M","SHIBOR9M","SHIBOR1Y"]},
        "y": {"field": "v", "type": "quantitative", "scale": {"domain": [0, 2.5], "range": [251.7, 38.3], "nice": false},
              "axis": {"title": null, "orient": "right", "offset": -48, "labelPadding": 3, "values": [0.5,1.0,1.5,2.0,2.5], "format": ".4f", "labelFontSize": 10.5, "labelOverlap": false}},
        "stroke": {"field": "s", "type": "nominal", "scale": {"domain": ["2024-02-26"], "range": ["#8064A2"]},
                   "legend": {"title": null, "legendX": 280, "legendY": 30.7, "symbolType": "stroke", "symbolSize": 729, "symbolStrokeWidth": 3}}
       }},
      {"data": {"name": "shline"}, "transform": [{"filter": "datum.s !== '2024-02-26'"}], "mark": {"type": "line", "strokeWidth": 2.5},
       "encoding": {
        "x": {"field": "c", "type": "nominal", "sort": ["SHIBORO/N","SHIBOR1W","SHIBOR2W","SHIBOR1M","SHIBOR3M","SHIBOR6M","SHIBOR9M","SHIBOR1Y"]},
        "y": {"field": "v", "type": "quantitative", "scale": {"domain": [0, 2.5], "range": [251.7, 38.3], "nice": false}, "axis": null},
        "stroke": {"field": "s", "type": "nominal", "scale": {"domain": ["2024-02-23","2024-02-18"], "range": ["#C4601E","#1F6B75"]},
                   "legend": {"title": null, "legendX": 84, "legendY": 47.3, "symbolType": "stroke", "symbolSize": 729, "symbolStrokeWidth": 3, "columnPadding": 15}}
       }}
     ],
     "resolve": {"scale": {"y": "independent", "stroke": "independent"}}},
    {"width": 430, "height": 245, "view": {"fill": "white", "stroke": "black", "strokeWidth": 2},
     "title": {"text": "国债到期收益率曲线SHIBOR系列", "offset": -30.8, "dx": 0},
     "layer": [
      {"data": {"name": "gzbar"}, "mark": {"type": "bar"},
       "encoding": {
        "x": {"field": "c", "type": "nominal", "sort": ["国债6月","国债1年","国债2年","国债3年","国债4年","国债5年","国债6年","国债7年","国债8年","国债9年","国债10年"], "scale": {"domain": ["国债6月","国债1年","国债2年","国债3年","国债4年","国债5年","国债6年","国债7年","国债8年","国债9年","国债10年"], "range": [36, 376], "paddingInner": 0.48, "paddingOuter": 0.24},
              "axis": {"title": null, "orient": "bottom", "offset": -164.8, "labelAngle": -45, "labelAlign": "right", "labelBaseline": "top", "labelPadding": 12, "labelFontSize": 10.5, "zindex": 1}},
        "xOffset": {"field": "s", "type": "nominal", "sort": ["日变动","周变动"], "scale": {"domain": ["日变动","周变动"], "paddingInner": 0.07}},
        "y": {"field": "v", "type": "quantitative", "stack": null, "scale": {"domain": [-20, 5], "range": [251.8, 37.3], "nice": false},
              "axis": {"title": null, "orient": "left", "offset": -26.7, "labelPadding": 3, "values": [-15,-10,-5,0,5], "labelFontSize": 10.5, "grid": true, "gridColor": "#d9d9d9", "labelOverlap": false}},
        "fill": {"field": "s", "type": "nominal", "scale": {"domain": ["日变动","周变动"], "range": ["#F79646","#4BACC6"]},
                 "legend": {"title": null, "legendX": 80, "legendY": 31.5, "symbolType": "M-1,-0.3H1V0.3H-1Z", "symbolSize": 625, "symbolStrokeWidth": 0, "columnPadding": 34}}
       }},
      {"data": {"name": "gzline"}, "transform": [{"filter": "datum.s === '2024-02-25'"}], "mark": {"type": "line", "strokeWidth": 2.5},
       "encoding": {
        "x": {"field": "c", "type": "nominal", "sort": ["国债6月","国债1年","国债2年","国债3年","国债4年","国债5年","国债6年","国债7年","国债8年","国债9年","国债10年"]},
        "y": {"field": "v", "type": "quantitative", "scale": {"domain": [1.5, 2.5], "range": [251.8, 37.3], "nice": false},
              "axis": {"title": null, "orient": "right", "offset": -50, "labelPadding": 3, "values": [1.7,1.9,2.1,2.3,2.5], "format": ".4f", "labelFontSize": 10.5, "labelOverlap": false}},
        "stroke": {"field": "s", "type": "nominal", "scale": {"domain": ["2024-02-25"], "range": ["#8064A2"]},
                   "legend": {"title": null, "legendX": 271, "legendY": 29, "symbolType": "stroke", "symbolSize": 729, "symbolStrokeWidth": 3}}
       }},
      {"data": {"name": "gzline"}, "transform": [{"filter": "datum.s !== '2024-02-25'"}], "mark": {"type": "line", "strokeWidth": 2.5},
       "encoding": {
        "x": {"field": "c", "type": "nominal", "sort": ["国债6月","国债1年","国债2年","国债3年","国债4年","国债5年","国债6年","国债7年","国债8年","国债9年","国债10年"]},
        "y": {"field": "v", "type": "quantitative", "scale": {"domain": [1.5, 2.5], "range": [251.8, 37.3], "nice": false}, "axis": null},
        "stroke": {"field": "s", "type": "nominal", "scale": {"domain": ["2024-02-23","2024-02-18"], "range": ["#C4601E","#1F6B75"]},
                   "legend": {"title": null, "legendX": 80, "legendY": 47.3, "symbolType": "stroke", "symbolSize": 729, "symbolStrokeWidth": 3, "columnPadding": 13}}
       }}
     ],
     "resolve": {"scale": {"y": "independent", "stroke": "independent"}}}
  ], "spacing": 0, "resolve": {"scale": {"fill": "independent", "stroke": "independent", "xOffset": "independent"}, "legend": {"fill": "independent", "stroke": "independent"}}}
]
}
